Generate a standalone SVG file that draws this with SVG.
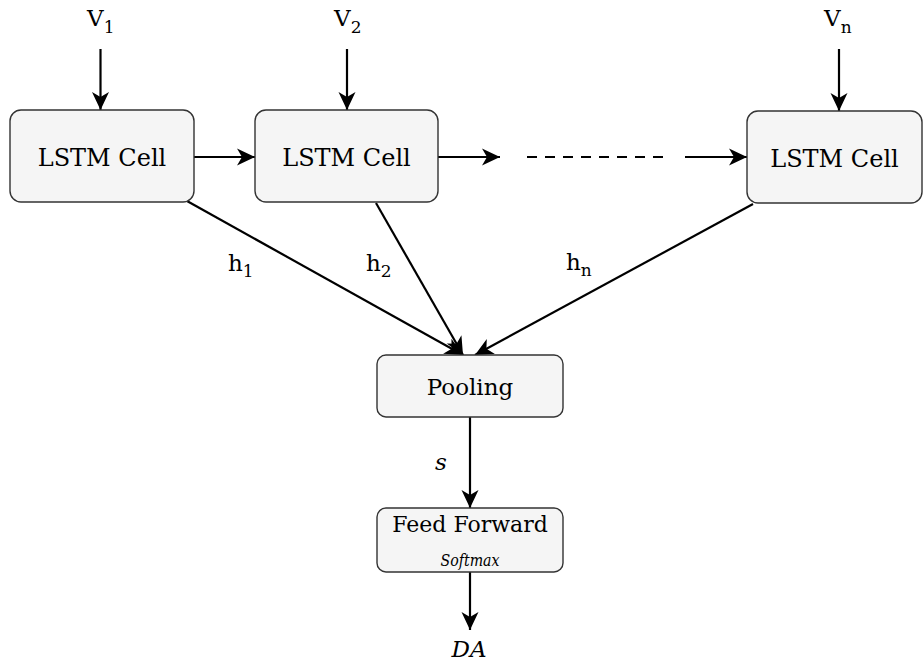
<svg xmlns="http://www.w3.org/2000/svg" width="923" height="662" viewBox="0 0 923 662">
<style>
.box{fill:#f5f5f5;stroke:#333;stroke-width:1.4}
.lbl{font-family:'DejaVu Serif','Liberation Serif',serif;font-size:23px;fill:#000}
.big{font-size:24px}
.it{font-style:italic}
.edge{stroke:#000;stroke-width:2.2;fill:none}
</style>
<defs>
<marker id="ah" markerUnits="userSpaceOnUse" viewBox="-20 -10 22 20" refX="0" refY="0" markerWidth="22" markerHeight="20" orient="auto">
<path d="M0,0 L-18,-8.5 L-13,0 L-18,8.5 Z" fill="#000"/>
</marker>
</defs>
<rect width="923" height="662" fill="#fff"/>
<g id="connectors">
<line class="edge" x1="100.5" y1="49" x2="100.5" y2="110" marker-end="url(#ah)"/>
<line class="edge" x1="347" y1="49" x2="347" y2="110" marker-end="url(#ah)"/>
<line class="edge" x1="839" y1="49" x2="839" y2="111" marker-end="url(#ah)"/>
<line class="edge" x1="194" y1="157" x2="255" y2="157" marker-end="url(#ah)"/>
<line class="edge" x1="438" y1="157" x2="500" y2="157" marker-end="url(#ah)"/>
<line class="edge" x1="527" y1="157" x2="667" y2="157" stroke-dasharray="10 8"/>
<line class="edge" x1="685" y1="157" x2="747" y2="157" marker-end="url(#ah)"/>
<line class="edge" x1="187" y1="201" x2="463" y2="355" marker-end="url(#ah)"/>
<line class="edge" x1="376" y1="203" x2="463" y2="355" marker-end="url(#ah)"/>
<line class="edge" x1="753" y1="204" x2="475" y2="355" marker-end="url(#ah)"/>
<line class="edge" x1="470" y1="417" x2="470" y2="508" marker-end="url(#ah)"/>
<line class="edge" x1="470" y1="572" x2="470" y2="630" marker-end="url(#ah)"/>
<text class="lbl" x="228" y="271">h<tspan font-size="17" dy="6">1</tspan></text>
<text class="lbl" x="366" y="271">h<tspan font-size="17" dy="6">2</tspan></text>
<text class="lbl" x="566" y="270">h<tspan font-size="17" dy="6">n</tspan></text>
<text class="lbl it" x="435" y="470">s</text>
<text class="lbl it" x="469" y="657" text-anchor="middle">DA</text>
</g>
<g id="v1"><text class="lbl" x="87" y="26">V<tspan font-size="17" dy="7">1</tspan></text></g>
<g id="v2"><text class="lbl" x="334" y="26">V<tspan font-size="17" dy="7">2</tspan></text></g>
<g id="vn"><text class="lbl" x="824" y="26">V<tspan font-size="17" dy="7">n</tspan></text></g>
<g id="lstm1"><rect class="box" x="10" y="110" width="184" height="92" rx="11"/><text class="lbl big" x="102" y="166" text-anchor="middle">LSTM Cell</text></g>
<g id="lstm2"><rect class="box" x="255" y="110" width="183" height="92" rx="11"/><text class="lbl big" x="346.5" y="166" text-anchor="middle">LSTM Cell</text></g>
<g id="lstmn"><rect class="box" x="747" y="111" width="175" height="92" rx="11"/><text class="lbl big" x="834.5" y="167" text-anchor="middle">LSTM Cell</text></g>
<g id="pooling"><rect class="box" x="377" y="355" width="186" height="62" rx="9"/><text class="lbl" x="470" y="395" text-anchor="middle">Pooling</text></g>
<g id="ff"><rect class="box" x="377" y="508" width="186" height="64" rx="9"/><text class="lbl" x="470" y="532" text-anchor="middle" style="font-size:22px">Feed Forward</text><text class="lbl it" x="470" y="566" text-anchor="middle" style="font-size:16px" textLength="59" lengthAdjust="spacingAndGlyphs">Softmax</text></g>
</svg>
